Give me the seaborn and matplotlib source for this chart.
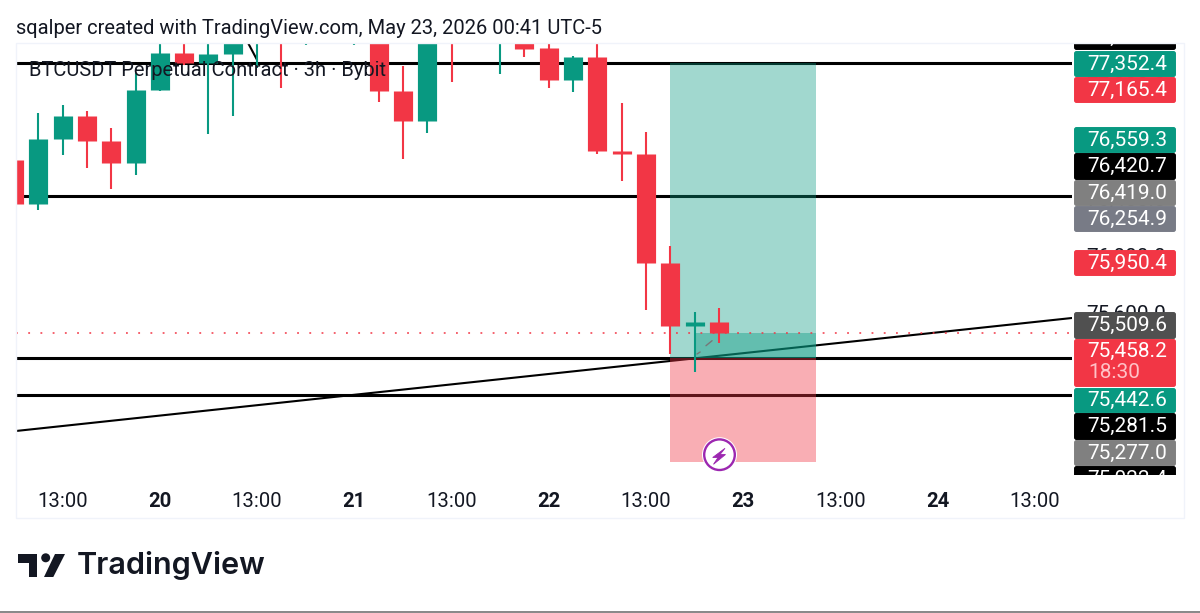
import matplotlib
matplotlib.use('Agg')
import matplotlib.pyplot as plt
from matplotlib.patches import Rectangle, FancyBboxPatch, Circle, Polygon
from matplotlib.ticker import FuncFormatter
import pandas as pd
import seaborn as sns

# Candles (3h bars, index 0 = first 13:00 tick)
bar_idx = list(range(-2, 28))
opens = [76671.6, 76362.8, 76819.0, 76980.4, 76805.0, 76650.6, 77162.9, 77422.5, 77352.4, 77415.5,
         77540.0, 77640.0, 77530.0, 77600.0, 77540.0, 77650.0, 77155.9, 76945.3, 77600.0, 77530.0,
         77540.0, 77600.0, 77457.6, 77233.1, 77394.5, 76734.8, 76713.7, 75948.8, 75506.7, 75534.7]
closes = [76362.8, 76819.0, 76980.4, 76805.0, 76650.6, 77162.9, 77422.5, 77352.4, 77415.5, 77520.0,
          77640.0, 77530.0, 77600.0, 77540.0, 77650.0, 77155.9, 76945.3, 77600.0, 77530.0, 77590.0,
          77600.0, 77450.6, 77233.1, 77394.5, 76734.8, 76713.7, 75948.8, 75506.7, 75534.7, 75458.2]
highs = [76700.0, 77001.5, 77057.6, 77015.5, 76896.2, 77282.2, 77560.0, 77530.0, 77540.0, 77600.0,
         77680.0, 77690.0, 77650.0, 77640.0, 77700.0, 77700.0, 77331.3, 77640.0, 77640.0, 77610.0,
         77630.0, 77640.0, 77520.0, 77401.5, 77520.0, 77071.6, 76868.1, 76068.1, 75604.9, 75632.9]
lows = [76340.0, 76320.7, 76706.7, 76615.5, 76468.1, 76566.4, 77155.9, 77338.3, 76854.1, 76980.4,
        77317.3, 77176.9, 77478.7, 77510.0, 77478.7, 77078.7, 76678.6, 76861.1, 77219.0, 77500.0,
        77275.2, 77394.5, 77176.9, 77148.8, 76713.7, 76524.2, 75618.9, 75310.1, 75183.8, 75387.3]

levels = [77352.4, 76419.0, 75281.5, 75022.4]
last_price = 75458.2
trend_x = [-1.92, 41.53]
trend_price = [74769.8, 75562.8]
stub_x = [7.63, 8.0]
stub_price = [77492.7, 77373.4]
dash_x = [[26.1, 26.23], [26.47, 26.72]]
dash_price = [[75310.1, 75324.1], [75368.4, 75403.5]]

# long/short position box
box_start, box_fill_start, box_end = 25, 26, 31
box_target, box_entry, box_stop = 77352.4, 75281.5, 74552.2

tick_pos = [0, 4, 8, 12, 16, 20, 24, 28, 32, 36, 40]
tick_labels = ['13:00', '20', '13:00', '21', '13:00', '22', '13:00', '23', '13:00', '24', '13:00']
price_ticks = [74800, 75200, 75600, 76000, 76400, 76800, 77200]

tag_labels = ['77,538.0', '77,352.4', '77,165.4', '76,559.3', '76,420.7', '76,419.0', '76,254.9',
              '75,950.4', '75,509.6', '75,458.2', '75,442.6', '75,281.5', '75,277.0', '75,022.4']
tag_colors = ['#000000', '#089981', '#F23645', '#089981', '#000000', '#808080', '#787B86',
              '#F23645', '#505050', '#F23645', '#089981', '#000000', '#808080', '#000000']
tag_tops = [24, 51, 77, 127, 153, 180, 206, 250, 312, 339, 388, 413, 440, 466]
tag_bottoms = [50, 77, 103, 153, 180, 206, 232, 276, 339, 387, 413, 440, 466, 492]

RED = '#F23645'
GREEN = '#089981'
INK = '#131722'
FONT = 'Roboto'

sns.set_theme(style='white')
plt.rcParams['font.family'] = [FONT, 'DejaVu Sans']

W, H = 1200, 613
fig = plt.figure(figsize=(W / 100, H / 100), dpi=100, facecolor='white')

# main pane: x 16..1072, y 43..475 px
ax = fig.add_axes([16 / W, 1 - 475 / H, 1056 / W, 432 / H], zorder=1)

for price in levels:
    sns.lineplot(x=trend_x, y=[price, price], ax=ax, color='black', lw=2.2,
                 solid_capstyle='butt', zorder=2, errorbar=None)
sns.lineplot(x=trend_x, y=trend_price, ax=ax, color='black', lw=1.5, zorder=2, errorbar=None)
sns.lineplot(x=stub_x, y=stub_price, ax=ax, color='black', lw=1.5, zorder=2, errorbar=None)

ax.add_patch(Rectangle((box_start, box_entry), box_end - box_start, box_target - box_entry,
                       color=GREEN, alpha=0.38, lw=0, zorder=3))
ax.add_patch(Rectangle((box_start, box_stop), box_end - box_start, box_entry - box_stop,
                       color=RED, alpha=0.4, lw=0, zorder=3))
ax.add_patch(Rectangle((box_fill_start, box_entry), box_end - box_fill_start, last_price - box_entry,
                       color=GREEN, alpha=0.4, lw=0, zorder=3))

ax.plot(trend_x, [last_price, last_price], color=RED, lw=1.1, ls=(0, (1.2, 6.8)), zorder=4)
for xs, ys in zip(dash_x, dash_price):
    ax.plot(xs, ys, color='#777777', lw=1.0, zorder=4)

# candles: wicks and bodies as vertical seaborn lines, one unit per bar
candles = pd.DataFrame({'idx': bar_idx, 'open': opens, 'close': closes, 'high': highs, 'low': lows})
candles['side'] = ['up' if c >= o else 'down' for o, c in zip(opens, closes)]
palette = {'up': GREEN, 'down': RED}
wicks = candles.melt(id_vars=['idx', 'side'], value_vars=['high', 'low'], value_name='price')
bodies = candles.melt(id_vars=['idx', 'side'], value_vars=['open', 'close'], value_name='price')
sns.lineplot(data=wicks, x='idx', y='price', hue='side', units='idx', estimator=None, sort=False,
             palette=palette, lw=1.5, legend=False, ax=ax, zorder=5, solid_capstyle='butt')
sns.lineplot(data=bodies, x='idx', y='price', hue='side', units='idx', estimator=None, sort=False,
             palette=palette, lw=13.8, legend=False, ax=ax, zorder=6, solid_capstyle='butt')

ax.set_xlim(-1.92, 41.53)
ax.set_ylim(74460.9, 77492.7)
ax.set_xlabel('')
ax.set_ylabel('')
for spine in ax.spines.values():
    spine.set_visible(False)
ax.patch.set_alpha(0)
ax.set_xticks(tick_pos)
ax.set_xticklabels(tick_labels, fontsize=14.6, color=INK)
for lab, txt in zip(ax.get_xticklabels(), tick_labels):
    if ':' not in txt:
        lab.set_fontweight('bold')
ax.tick_params(axis='x', length=0, pad=12.5)
ax.yaxis.tick_right()
ax.set_yticks(price_ticks)
ax.yaxis.set_major_formatter(FuncFormatter(lambda v, _: f'{v:,.1f}'))
ax.tick_params(axis='y', length=0, pad=10.5, labelsize=15, labelcolor=INK)

# price scale tags, x and y in pixels
ax_tags = fig.add_axes([1072 / W, 1 - 475 / H, 112 / W, 432 / H], zorder=2)
ax_tags.set_xlim(1072, 1184)
ax_tags.set_ylim(475, 43)
ax_tags.axis('off')
for label, color, top, bottom in zip(tag_labels, tag_colors, tag_tops, tag_bottoms):
    ax_tags.add_patch(FancyBboxPatch((1075, top + 1), 100, bottom - top - 2,
                                     boxstyle='round,pad=0,rounding_size=1.5', fc=color, ec=color,
                                     lw=1.4, clip_on=True))
    if label == '75,458.2':
        ax_tags.text(1087, top + 12, label, color='white', fontsize=15, va='center', clip_on=True)
        ax_tags.text(1088, top + 34, '18:30', color='#FFC2C7', fontsize=15, va='center', clip_on=True)
    else:
        ax_tags.text(1087, (top + bottom) / 2, label, color='white', fontsize=15, va='center', clip_on=True)

# page level items, pixel coordinates
page = fig.add_axes([0, 0, 1, 1], zorder=3)
page.set_xlim(0, W)
page.set_ylim(H, 0)
page.axis('off')
page.add_patch(Rectangle((16, 43), 1168, 475, fill=False, ec='#F0F3FA', lw=1))
page.add_patch(Rectangle((0, 610.5), W, 2.5, fc='#8A8A8A', lw=0))
page.text(16, 28.5, 'sqalper created with TradingView.com, May 23, 2026 00:41 UTC-5',
          fontsize=14.5, color=INK, va='center')
page.text(29, 71, 'BTCUSDT Perpetual Contract · 3h · Bybit', fontsize=14.5, color=INK, va='center')

# alert icon
page.add_patch(Circle((719.5, 454.7), 17.5, fc='white', ec='none'))
page.add_patch(Circle((719.5, 454.7), 15.3, fc='white', ec='#9C27B0', lw=1.7))
page.add_patch(Polygon([(725, 448.3), (712.7, 457.5), (718, 457.5), (713.5, 464.3), (725.5, 454.5), (720, 454.5)],
                       closed=True, fc='#9C27B0', ec='#9C27B0', lw=0.6))

# TradingView logo
logo = '#131722'
page.add_patch(Polygon([(18.3, 554), (37.3, 554), (37.3, 577), (29, 577), (29, 563), (18.3, 563)], fc=logo, ec='none'))
page.add_patch(Circle((45.7, 557.8), 4.5, fc=logo, ec='none'))
page.add_patch(Polygon([(55, 554), (65, 554), (53.3, 577), (44, 577)], fc=logo, ec='none'))
page.text(76.5, 566, 'TradingView', fontsize=22, fontweight='semibold', color=logo, va='center', family='Inter')

fig.savefig('out.png', dpi=100)
